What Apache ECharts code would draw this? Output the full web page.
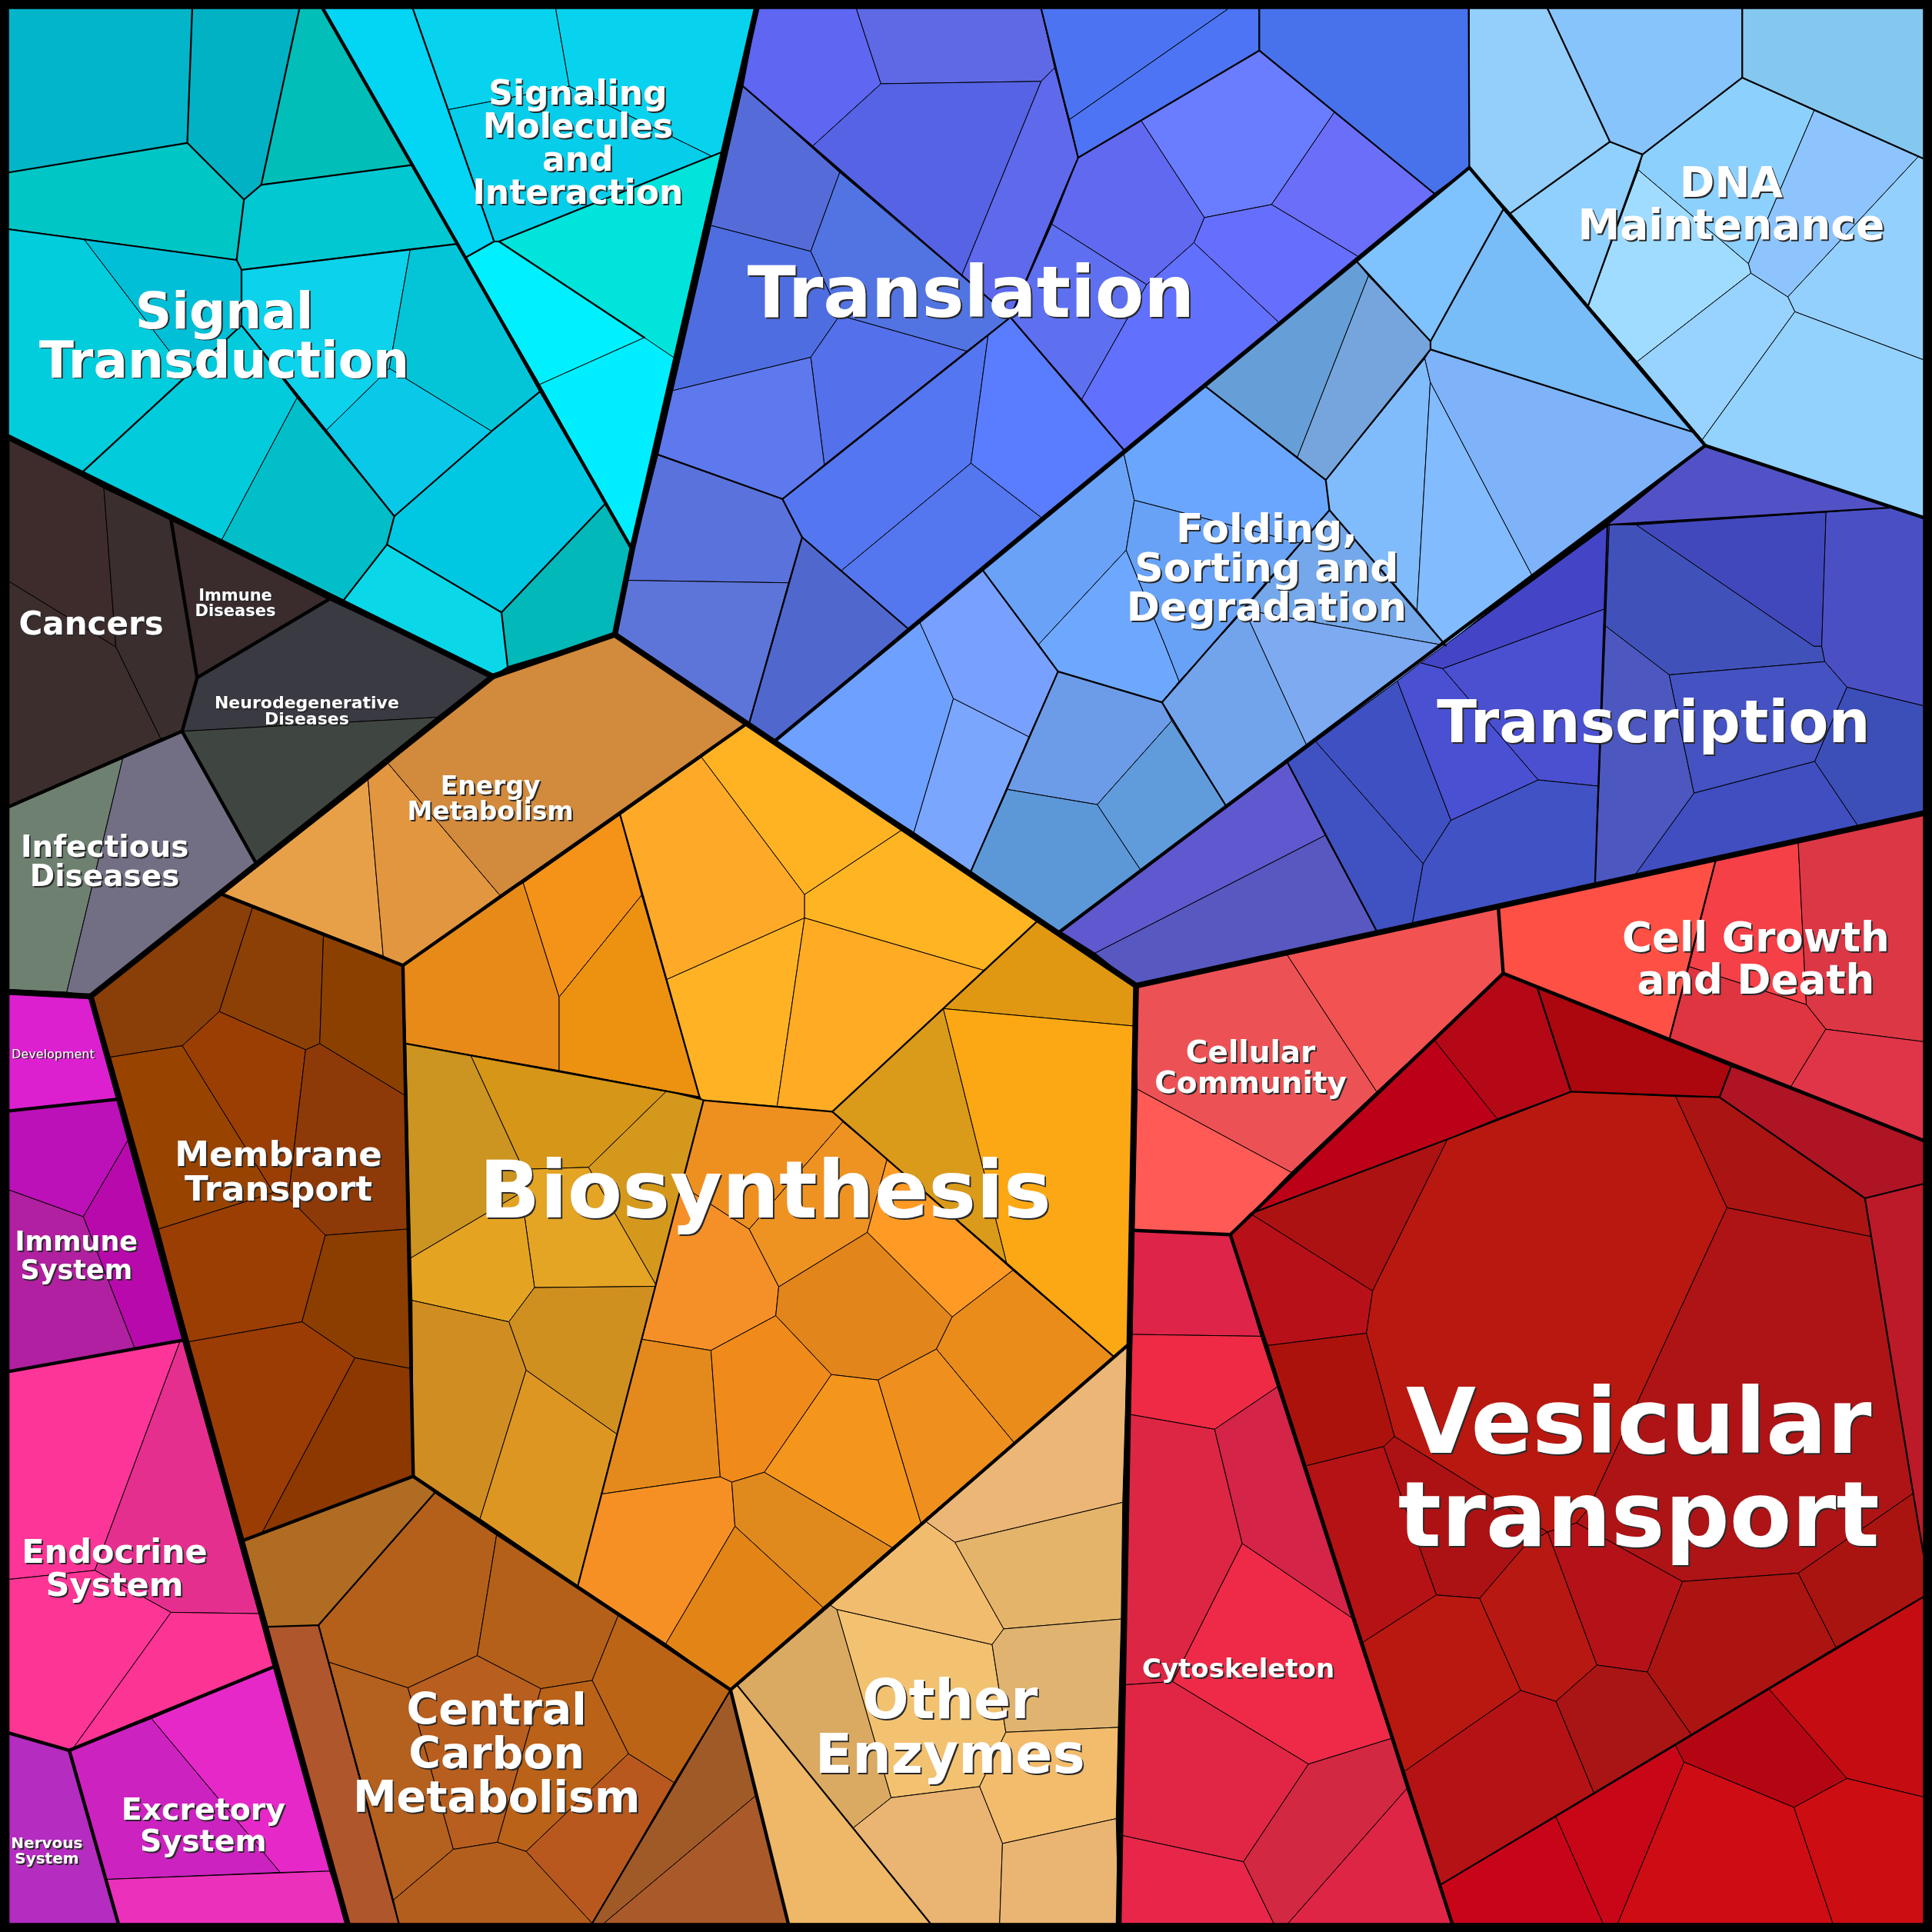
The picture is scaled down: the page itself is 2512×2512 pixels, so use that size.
<!DOCTYPE html>
<html>
<head>
<meta charset="utf-8">
<title>Proteomap</title>
<script src="https://cdn.jsdelivr.net/npm/echarts@6/dist/echarts.min.js"></script>
<style>
  html, body { margin: 0; padding: 0; background: #000; }
  #chart { width: 2512px; height: 2512px; }
</style>
</head>
<body>
<div id="chart"></div>
<script>
// cell outlines, in axis units (0-1568)
var signalTransduction = [
  [7,7,156,7,152,116,7,140],
  [156,7,243,7,212,150,198,162,152,116],
  [243,7,262,7,334,134,212,150],
  [7,140,152,116,198,162,192,211,7,186],
  [212,150,334,134,371,198,196,219,192,211,198,162],
  [7,186,68,194,152,304,67,383,7,355],
  [68,194,192,211,196,219,196,264,152,304],
  [196,219,333,202,316,299,265,349,196,264],
  [333,202,371,198,438,318,399,350,316,299],
  [316,299,399,350,320,419,265,349],
  [152,304,196,264,241,323,180,438,67,383],
  [241,323,320,419,314,442,279,487,180,438],
  [320,419,399,350,438,318,491,409,407,497,314,442],
  [314,442,407,497,412,541,400,549,279,487],
  [491,409,513,446,499,515,412,541,407,497]
];
var signalTransductionColors = ['#03b5c8','#01b2c4','#01bfb8','#01c6c6','#02c8d2','#01cddc','#02bfd8','#0cd2eb','#04c5d8','#0ac8e8','#02cbdc','#02bec8','#01c8e2','#0ad8e8','#03b8b8'];

var signalingMolecules = [
  [262,7,335,7,401,196,378,209],
  [335,7,451,7,462,70,364,89],
  [451,7,614,7,587,123,578,127,462,70],
  [364,89,462,70,578,127,405,196,401,196],
  [405,196,587,123,548,291],
  [378,209,401,196,405,196,523,274,438,312],
  [438,312,523,274,548,291,513,446]
];
var signalingMoleculesColors = ['#03d5f5','#08d3ee','#08d3ee','#05cdea','#00e4dc','#00f0ff','#00eeff'];

var translation = [
  [615,7,695,7,715,68,659,119,603,70],
  [695,7,845,7,856,55,845,66,715,68],
  [715,68,845,66,780,225,659,119],
  [845,66,856,55,875,128,820,257.5,780,225],
  [603,70,681.5,140,658,204,577,183],
  [681.5,140,820,257.5,784.5,285,681.5,256,658,204],
  [577,183,658,204,681.5,256,658,290,546,317],
  [681.5,256,784.5,285,669,377,658,290],
  [546,317,658,290,669,377,635,405,534,369],
  [635,405,802,272,788,376,683,463,651,436],
  [802,272,820,257.5,912,365,845,420,788,376],
  [788,376,845,420,736.7,510,683,463],
  [534,369,635,405,651,436,640,473,508,471],
  [508,471,640,473,608,587,499,515],
  [651,436,736.7,510,628,602,608,587,640,473],
  [845,7,997,7,868,97,856,55],
  [997,7,1022,7,1022,41,875,128,868,97],
  [1022,7,1192,7,1192.5,136,1164,157,1083,91,1022,41],
  [1022,41,1083,91,1032,166,977.5,176.6,926,97.7],
  [1083,91,1164,157,1102,208,1032,166],
  [875,128,926,97.7,977.5,176.6,969,197,930.6,231,853.7,182],
  [977.5,176.6,1032,166,1102,208,1037.7,261.5,969,197],
  [853.7,182,930.6,231,878,324,820,257.5],
  [930.6,231,969,197,1037.7,261.5,912,365,878,324]
];
var translationColors = ['#5e66f2','#5f69e5','#5563e4','#5e69ec','#556cd8','#5274e2','#4e6de0','#5470ea','#5e78ee','#5476f0','#5a7cfe','#5476ee','#5a72dc','#5d75d8','#5068ce','#4c74f2','#4c74f4','#4871ec','#6a7cff','#6a6ef8','#6069f0','#666efe','#5e70f0','#6270fe'];

var folding = [
  [628,602,746,504,755,524,773.8,567,741.7,675.5],
  [746,504,797,462,858.7,545,835,598,773.8,567,755,524],
  [773.8,567,835,598,788,707,741.7,675.5],
  [911.6,366,920.6,406,914,446.5,843,523,797,462],
  [843,523,914,446.5,945.7,524,957,553,943,570,858.7,545],
  [858.7,545,943,570,951,585,890.5,653,817.6,640.7,835,598],
  [951,585,995,654,925.6,706,890.5,653],
  [817.6,640.7,890.5,653,925.6,706,859,757,788,707],
  [1101,212,1110.6,224,1053,371,977.5,313],
  [1110.6,224,1161,277,1161,283.6,1076,389.6,1053,371],
  [911.6,366,977.5,313,1053,371,1076,389.6,1079,414,1056,441,920.6,406],
  [920.6,406,1056,441,1010,495,957,553,945.7,524,914,446.5],
  [943,570,957,553,1010,495,1061,606,995,654,951,585],
  [1010,495,1079,414,1150,495,1173.5,524],
  [1010,495,1173.5,524,1061,606],
  [1156.4,291,1160.8,310,1150,495,1079,414,1076,389.6],
  [1160.8,310,1243.4,467,1173.5,524,1150,495],
  [1161,283.6,1375,351,1384,361.6,1243.4,467,1160.8,310,1156.4,291],
  [1101,212,1192.5,136,1220,170,1161,277],
  [1220,170,1375,351,1161,283.6,1161,277]
];
var foldingColors = ['#6ea0ff','#78a0ff','#7aa6fe','#6aa2f8','#6ea8fe','#6c9ce8','#609cdc','#5c98d8','#669fd8','#75a5dc','#6aa6fe','#67a2f6','#72a4ec','#74a8ea','#7eaaf2','#80bcfc','#82bbfe','#7eb3fa','#7ec2fe','#78bcf8'];

var dnaMaintenance = [
  [1192.5,7,1256,7,1306.6,115,1226,173,1192.5,136],
  [1256,7,1414,7,1414,63,1333,125.4,1306.6,115],
  [1414,7,1561,7,1561,128.8,1414,63],
  [1226,173,1306.6,115,1333,125.4,1289,248],
  [1414,63,1472.4,89.6,1419,214,1329.7,138,1333,125.4],
  [1472.4,89.6,1557,127,1451,241,1421,221.7,1419,214],
  [1557,127,1561,128.8,1561,292,1456.7,253,1451,241],
  [1329.7,138,1419,214,1421,221.7,1328.6,293.6,1289,248],
  [1421,221.7,1451,241,1456.7,253,1381.5,357,1328.6,293.6],
  [1456.7,253,1561,292,1561,420,1384,361.6,1381.5,357]
];
var dnaMaintenanceColors = ['#94cefa','#88c4fc','#84c8f0','#90d0fe','#8cd0fe','#8ec4fe','#94d0fe','#a0dcff','#98d2fe','#94d2fe'];

var transcription = [
  [1384,361.6,1533.7,412,1304.6,426],
  [1306,426,1328,426,1472,524.4,1478.5,524.4,1481,537,1354.7,547.7,1303,508],
  [1328,426,1482,415.7,1478.5,524.4,1472,524.4],
  [1482,415.7,1533.7,412,1561,420,1561,572.8,1499,557.7,1481,537,1478.5,524.4],
  [1303,508,1354.7,547.7,1374.8,643.7,1327,710,1294.5,717.6],
  [1354.7,547.7,1481,537,1499,557.7,1472.8,618,1374.8,643.7],
  [1499,557.7,1561,572.8,1561,660,1508,670.5,1472.8,618],
  [1374.8,643.7,1472.8,618,1508,670.5,1327,710],
  [1045,619,1075.5,678,888.8,773.5,860.4,755.7],
  [1075.5,678,1118,757,922,800,888.8,773.5],
  [1153,538,1306,426,1303,494,1170.8,542.7],
  [1170.8,542.7,1303,494,1297,638,1248.4,633],
  [1134,552.7,1153,538,1170.8,542.7,1248.4,633,1177.5,665.8],
  [1067.8,601.9,1134,552.7,1177.5,665.8,1155,701],
  [1045,619,1067.8,601.9,1155,701,1146.4,749,1118,757],
  [1177.5,665.8,1248.4,633,1297,638,1294.5,717.6,1146.4,749,1155,701]
];
var transcriptionColors = ['#5252c6','#4052ba','#4148bc','#4a50c4','#4c58c0','#4452c2','#3c4eb8','#404ec0','#6058ce','#5858c0','#4444c6','#4a50d0','#4a50d2','#3f50c2','#4052c2','#4052c4'];

var cellGrowth = [
  [1216,736,1392.5,698,1355,843,1220,790],
  [1392.5,698,1459.4,684,1466,815.3,1370.8,784.5],
  [1459.4,684,1561,660,1561,845.4,1481.8,835.3,1466,815.3],
  [1370.8,784.5,1466,815.3,1481.8,835.3,1453.4,882,1355,843],
  [1481.8,835.3,1561,845.4,1561,925.6,1453.4,882]
];
var cellGrowthColors = ['#ff5046','#f54048','#dc3745','#de3540','#e03448'];

var cellularCommunity = [
  [922,800,1043.7,773.5,1117.3,886,1048,951.5,923,884],
  [1043.7,773.5,1216,736,1220,790,1117.3,886],
  [923,884,1048,951.5,998.5,1002,920.6,998.6]
];
var cellularCommunityColors = ['#ec5255','#f25252','#ff5a55'];

var cytoskeleton = [
  [920.6,998.6,998.5,1002,1023.3,1084.5,918.9,1083],
  [918.9,1083,1023.3,1084.5,1036.7,1125.6,985.8,1160,917.3,1148],
  [917.3,1148,985.8,1160,1008.2,1252.7,951.7,1364.8,912.3,1367.4],
  [1036.7,1125.6,1097,1313,1008.2,1252.7,985.8,1160],
  [1008.2,1252.7,1097,1313,1129,1411,1062,1431.7,951.7,1364.8],
  [912.3,1367.4,951.7,1364.8,1062,1431.7,1009.2,1511,910,1489.5],
  [1062,1431.7,1129,1411,1141.7,1451.7,1045.4,1561,1033.7,1561,1009.2,1511],
  [910,1489.5,1009.2,1511,1033.7,1561,907.9,1561],
  [1141.7,1451.7,1178.5,1561,1045.4,1561]
];
var cytoskeletonColors = ['#de2448','#ee2a44','#dc2644','#d42448','#ee2a48','#e02644','#d22842','#e8264a','#de2546'];

var vesicularTransport = [
  [1015,985,1164,844,1215,908,1174.8,924.6],
  [998.5,1002,1015,985,1114,1047.7,1109,1082,1029,1092],
  [1015,985,1174.8,924.6,1114,1047.7],
  [1164,844,1220,790,1247.7,802,1275,886,1215,908],
  [1247.7,802,1405,865.5,1395.5,890.5,1275,886],
  [1405,865.5,1561,925.6,1561,960.8,1513.6,972.5,1395.5,890.5],
  [1174.8,924.6,1275,886,1360,889.9,1401.6,980.2,1289.5,1224,1279.5,1236,1256,1243.4,1131.7,1165.8,1109,1082,1114,1047.7],
  [1360,889.9,1395.5,890.5,1513.6,972.5,1518.6,1003.6,1401.6,980.2],
  [1401.6,980.2,1518.6,1003.6,1552.7,1212,1459.4,1276.8,1365.4,1283.5,1279.5,1236,1289.5,1224],
  [1513.6,972.5,1561,960.8,1561,1261,1552.7,1212,1518.6,1003.6],
  [1552.7,1212,1561,1261,1561,1296,1490,1337,1459.4,1276.8],
  [1365.4,1283.5,1459.4,1276.8,1490,1337,1372.4,1407.6,1337,1357],
  [1279.5,1236,1365.4,1283.5,1337,1357,1296,1351.4,1256,1243.4],
  [1029,1092,1109,1082,1131.7,1165.8,1123,1174,1059.4,1189.8],
  [1059.4,1189.8,1123,1174,1165.8,1294.5,1105.9,1333],
  [1123,1174,1131.7,1165.8,1256,1243.4,1238,1254,1200.9,1297.2,1165.8,1294.5],
  [1105.9,1333,1165.8,1294.5,1200.9,1297.2,1234.3,1372,1139.7,1437.7],
  [1200.9,1297.2,1238,1254,1256,1243.4,1296,1351.4,1262.8,1380.8,1234.3,1372],
  [1262.8,1380.8,1296,1351.4,1337,1357,1372.4,1407.6,1293.5,1455],
  [1139.7,1437.7,1234.3,1372,1262.8,1380.8,1293.5,1455,1169,1529.7],
  [1169,1529.7,1262.8,1474.5,1301,1561,1178.5,1561],
  [1262.8,1474.5,1359.8,1416.6,1366.8,1430,1313,1561,1301,1561],
  [1366.8,1430,1456,1466.8,1487.5,1561,1313,1561],
  [1359.8,1416.6,1435.7,1370.8,1499,1443.4,1456,1466.8,1366.8,1430],
  [1435.7,1370.8,1561,1296,1561,1458.4,1499,1443.4],
  [1456,1466.8,1499,1443.4,1561,1458.4,1561,1561,1487.5,1561]
];
var vesicularTransportColors = ['#bc0018','#b81018','#ac1212','#b40816','#ac060e','#ae1424','#b81810','#aa1412','#ae1416','#bc1a28','#aa1410','#ac1412','#b41218','#ac120c','#b41214','#ac1214','#b81810','#b81812','#a81514','#b51216','#c80418','#c80618','#ce0c14','#b40612','#c40c12','#cc0e12'];

var energyMetabolism = [
  [180.6,726,298.7,633,311,775.8],
  [298.7,633,315,619.6,405.7,726.6,327,783.5,311,775.8],
  [315,619.6,400,549,499,515,605,588,405.7,726.6]
];
var energyMetabolismColors = ['#e8a048','#e29640','#d28a3c'];

var membraneTransport = [
  [180.6,726,205,736.7,178,821,148,848.7,89.6,858,73.6,808.6],
  [205,736.7,262.5,759.4,259.5,847,248,852,178,821],
  [262.5,759.4,327,783.5,329.4,889.5,259.5,847],
  [89.6,858,148,848.7,222,968,128.8,997.5],
  [148,848.7,178,821,248,852,234,972,222,968],
  [248,852,259.5,847,329.4,889.5,331,997.5,264,1002.5,234,972],
  [264,1002.5,331,997.5,332.8,1110.6,288,1102,245,1072.8],
  [128.8,997.5,222,968,234,972,264,1002.5,245,1072.8,153,1089],
  [153,1089,245,1072.8,288,1102,213,1243.4,198,1250],
  [288,1102,332.8,1110.6,335.4,1198.2,213,1243.4]
];
var membraneTransportColors = ['#8a3e08','#8c4006','#8c4000','#984400','#9a3e04','#8e3a08','#8c3e00','#9a3e04','#9a3c04','#8c3800'];

var biosynthesis = [
  [329.4,847,327,783.5,405.7,726.6,424.7,716.6,453.8,809.2,453.8,868.8],
  [424.7,716.6,503.3,661.4,520.7,726.6,453.8,809.2],
  [453.8,809.2,520.7,726.6,567.8,890.5,453.8,868.8],
  [503.3,661.4,569.4,614.6,653,726,653,745,541,795],
  [569.4,614.6,605,588,731.7,673.8,653,726],
  [731.7,673.8,841.4,748,798.5,787.5,653,745,653,726],
  [541,795,653,745,630.7,897.9,571,893,567.8,890.5],
  [653,745,798.5,787.5,675.5,902.2,630.7,897.9],
  [798.5,787.5,841.4,748,922,800,920,832.7,765.6,818.6],
  [765.6,818.6,817,1025,675.5,902.2],
  [765.6,818.6,920,832.7,915,1092,903.9,1101,817,1025],
  [329.4,847,382,856.4,424.7,949,423,968,333.4,1021],
  [382,856.4,541,885.5,477.6,947.4,424.7,949],
  [541,885.5,571,893,533,1044,477.6,947.4],
  [424.7,949,477.6,947.4,533,1044,433.8,1045,423,968],
  [333.4,1021,423,968,433.8,1045,413,1072.8,334.4,1055.4],
  [433.8,1045,533,1044,500.7,1164,427,1112,413,1072.8],
  [334.4,1055.4,413,1072.8,427,1112,389.6,1232.7,335.4,1198.2],
  [427,1112,500.7,1164,469,1287,389.6,1232.7],
  [571,893,675.5,902.2,684,910.6,608,997.6,553,962],
  [684,910.6,720,940.7,703.9,1000.2,632,1044.4,608,997.6],
  [720,940.7,822,1031,772.8,1068.8,703.9,1000.2],
  [553,962,608,997.6,632,1044.4,629.6,1067.8,577,1096,521,1087],
  [632,1044.4,703.9,1000.2,772.8,1068.8,760,1094.9,712.6,1120,674.8,1115.6,629.6,1067.8],
  [772.8,1068.8,822,1031,903.9,1101,823,1170.8,760,1094.9],
  [521,1087,577,1096,584.5,1198.6,488,1212.6],
  [577,1096,629.6,1067.8,674.8,1115.6,620.3,1194.9,593.9,1202.9,584.5,1198.6],
  [674.8,1115.6,712.6,1120,747.4,1236,724,1256,620.3,1194.9],
  [712.6,1120,760,1094.9,823,1170.8,747.4,1236],
  [488,1212.6,584.5,1198.6,593.9,1202.9,596.5,1238.7,540.4,1334,469,1287],
  [593.9,1202.9,620.3,1194.9,724,1256,668,1304.6,596.5,1238.7],
  [596.5,1238.7,668,1304.6,592.9,1371.5,540.4,1334]
];
var biosynthesisColors = ['#e88a18','#f59218','#ec9210','#feaa28','#ffb322','#ffb422','#ffb324','#ffab24','#e09812','#da9a1a','#fba814','#cc9420','#d69618','#d4981c','#e4a424','#e4a422','#cf9020','#d08e22','#de9622','#ee9020','#ee9222','#ff9a24','#f59028','#e2851a','#ea8c1a','#e48a1c','#f08a1a','#f5961c','#ee8f1e','#f69024','#e08a1e','#e28416'];

var centralCarbon = [
  [198,1250,335.4,1198.2,352.8,1211.6,258.5,1319,217.4,1320.3],
  [217.4,1320.3,258.5,1319,323.7,1561,282,1561],
  [352.8,1211.6,403,1246,387.3,1343.7,331,1369.8,266.9,1349,258.5,1319],
  [403,1246,501.7,1311.3,480.6,1363.8,439,1370.5,387.3,1343.7],
  [501.7,1311.3,592.9,1371.5,547,1446.7,510,1423.3,480.6,1363.8],
  [331,1369.8,387.3,1343.7,439,1370.5,403.7,1495.2,367.9,1500.9],
  [439,1370.5,480.6,1363.8,510,1423.3,427,1502.6,403.7,1495.2],
  [510,1423.3,547,1446.7,480.6,1561,427,1502.6],
  [266.9,1349,331,1369.8,367.9,1500.9,319.4,1542],
  [319.4,1542,367.9,1500.9,403.7,1495.2,427,1502.6,480.6,1561,323.7,1561],
  [592.9,1371.5,613,1457.7,490,1561,480.6,1561],
  [613,1457.7,639.7,1561,490,1561]
];
var centralCarbonColors = ['#b06c22','#b0562c','#b4601a','#b46018','#bc6416','#b85e1e','#ba6218','#b8581e','#b4601e','#b45e1e','#a05a28','#aa5a2a'];

var otherEnzymes = [
  [598.5,1368,755,1561,639.7,1561,592.9,1371.5],
  [598.5,1368,674.1,1302.9,679.2,1306.2,723.3,1459,692.5,1483.5],
  [679.2,1306.2,805.2,1334.7,816.3,1405.9,795,1450,723.3,1459],
  [674.1,1302.9,751.7,1235,775,1251.7,814.6,1322,805.2,1334.7,679.2,1306.2],
  [751.7,1235,915,1092,911.2,1219.3,775,1251.7],
  [775,1251.7,911.2,1219.3,910,1314,814.6,1322],
  [814.6,1322,910,1314,907.6,1401.9,816.3,1405.9,805.2,1334.7],
  [816.3,1405.9,907.6,1401.9,905.9,1476,813.6,1496.2,795,1450],
  [692.5,1483.5,723.3,1459,795,1450,813.6,1496.2,811.3,1561,755,1561],
  [813.6,1496.2,905.9,1476,907.9,1561,811.3,1561]
];
var otherEnzymesColors = ['#efb868','#daa962','#f2c270','#f2bc6e','#ecb676','#e4b46a','#e0b470','#f2bc6c','#eab472','#eab572'];

var organismalSystems = [
  [7.4,806.9,72.9,810.3,94.6,892.2,7.4,901.6],
  [7.4,901.6,94.6,892.2,103.7,925.6,67.6,987.5,7.4,965.8],
  [103.7,925.6,148,1087.8,109.4,1094.5,67.6,987.5],
  [7.4,965.8,67.6,987.5,109.4,1094.5,7.4,1113],
  [7.4,1113,146,1089,77,1274.5,7.4,1281.8],
  [146,1089,148,1087.8,210,1309.6,138.8,1308.6,77,1274.5],
  [7.4,1281.8,77,1274.5,138.8,1308.6,58.5,1420,56.2,1420.6,7.4,1406.6],
  [138.8,1308.6,210,1309.6,221.7,1353,58.5,1420],
  [56.2,1420.6,123,1394.8,227.4,1519.6,86.3,1525.3],
  [123,1394.8,221.7,1353,267.6,1518.6,227.4,1519.6],
  [86.3,1525.3,267.6,1518.6,282,1561,96,1561],
  [7.4,1406.6,56.2,1420.6,96,1561,7.4,1561]
];
var organismalSystemsColors = ['#dc20d0','#bc10b8','#b80aac','#b020a0','#fe3598','#e52f8e','#fd3595','#fc3494','#cc22c0','#e628c8','#eb30bc','#b42cc0'];

var humanDiseases = [
  [7.4,355,84.3,396.3,94,525,7.4,472],
  [84.3,396.3,138.8,422,160,550,147.8,593.5,130.4,599.5,94,525],
  [7.4,472,94,525,130.4,599.5,7.4,654.7],
  [138.8,422,266.6,486.6,160,550],
  [160,550,266.6,486.6,400,549,354.5,582.2,147.8,593.5],
  [147.8,593.5,354.5,582.2,207.4,699.9],
  [7.4,654.7,99.7,615.3,54.2,805.2,7.4,803],
  [99.7,615.3,147.8,593.5,207.4,699.9,73.6,808.6,54.2,805.2]
];
var humanDiseasesColors = ['#3e2c2c','#3a2e2e','#3c2e2c','#3a2c2c','#3a3a42','#3f4540','#6e8070','#726e84'];

// pathway boundaries, heaviest first
var level1Lines = [
  [7,355,400,549,499,515,513,446,614,7],
  [499,515,922,800,1561,660],
  [400,549,73.6,808.6,7,805],
  [73.6,808.6,282,1561],
  [922,800,907.9,1561]
];
var level2Lines = [
  [262,7,513,446],
  [628,602,1192.5,136,1384,361.6],
  [1561,420,1384,361.6,859,757],
  [138.8,422,160,550,147.8,593.5,7.4,654.7],
  [160,550,266.6,486.6],
  [147.8,593.5,207.4,699.9],
  [180.6,726,327,783.5,335.4,1198.2],
  [198,1250,335.4,1198.2,592.9,1371.5,915,1092],
  [592.9,1371.5,639.7,1561],
  [327,783.5,605,588],
  [1216,736,1220,790,1561,925.6],
  [1220,790,998.5,1002,920.6,998.6],
  [998.5,1002,1178.5,1561],
  [7.4,901.6,94.6,892.2],
  [7.4,1113,148,1087.8],
  [7.4,1406.6,56.2,1420.6,221.7,1353],
  [56.2,1420.6,96,1561]
];
var level3Lines = [
  [156,7,152,116],
  [7,140,152,116,198,162,212,150,243,7],
  [212,150,334,134],
  [198,162,192,211,196,219],
  [7,186,192,211],
  [196,219,371,198],
  [196,219,196,264],
  [196,264,67,383],
  [196,264,320,419,399,350,438,318],
  [320,419,314,442,279,487],
  [314,442,407,497,491,409],
  [407,497,412,541],
  [335,7,401,196,378,209],
  [401,196,405,196,587,123],
  [405,196,523,274],
  [603,70,820,257.5,912,365],
  [875,128,820,257.5,635,405],
  [534,369,635,405,651,436,736.7,510],
  [651,436,608,587],
  [845,7,875,128,1022,41,1022,7],
  [1022,41,1164,157],
  [1192,7,1192.5,136],
  [797,462,858.7,545,788,707],
  [858.7,545,943,570,995,654],
  [943,570,1079,414,1076,389.6,977.5,313],
  [1076,389.6,1161,283.6,1161,277,1101,212],
  [1161,277,1220,170],
  [1161,283.6,1375,351],
  [1079,414,1173.5,524],
  [1256,7,1306.6,115,1333,125.4,1414,63,1414,7],
  [1226,173,1306.6,115],
  [1333,125.4,1289,248],
  [1414,63,1561,128.8],
  [1045,619,1118,757],
  [1304.6,426,1294.5,717.6],
  [1304.6,426,1533.7,412],
  [1392.5,698,1355,843],
  [1247.7,802,1275,886,1395.5,890.5,1405,865.5],
  [1275,886,1174.8,924.6,1015,985,998.5,1002],
  [1395.5,890.5,1513.6,972.5,1561,960.8],
  [1513.6,972.5,1552.7,1212,1561,1261],
  [1169,1529.7,1561,1296],
  [329.4,847,567.8,890.5],
  [503.3,661.4,567.8,890.5],
  [571,893,469,1287],
  [571,893,675.5,902.2,841.4,748],
  [675.5,902.2,903.9,1101],
  [352.8,1211.6,258.5,1319,217.4,1320.3],
  [258.5,1319,323.7,1561],
  [592.9,1371.5,480.6,1561],
  [598.5,1368,755,1561]
];

// pathway names
var labelNames = ['Signal\nTransduction','Signaling\nMolecules\nand\nInteraction','Translation','DNA\nMaintenance','Folding,\nSorting and\nDegradation','Transcription','Cell Growth\nand Death','Cellular\nCommunity','Biosynthesis','Energy\nMetabolism','Cancers','Immune\nDiseases','Neurodegenerative\nDiseases','Infectious\nDiseases','Membrane\nTransport','Development','Immune\nSystem','Endocrine\nSystem','Excretory\nSystem','Nervous\nSystem','Central\nCarbon\nMetabolism','Other\nEnzymes','Cytoskeleton','Vesicular\ntransport'];
var labelX = [182,469,788,1405,1028,1342,1425,1015,621,398,74,191,249,85,226,43,62,93,165,38,403,771,1005,1330];
var labelY = [275.5,118,242,168,463.5,590,781,868,971,650,508,490.5,578,701,953,856,1021,1275,1483,1503,1426,1405,1356,1198];
var labelSizes = [66,44,92.5,55,52,76,53,39,104,33,42,21,22,39,45,16,35,43,39.5,20,57,71,34,117.5];
var labelSpacing = [64,43,95,55,51,78,55,40,112,33,42,20,21,38,45,16,37,43,41,20,57,71,34,121];

var groups = [
  [signalTransduction, signalTransductionColors],
  [signalingMolecules, signalingMoleculesColors],
  [translation, translationColors],
  [folding, foldingColors],
  [dnaMaintenance, dnaMaintenanceColors],
  [transcription, transcriptionColors],
  [cellGrowth, cellGrowthColors],
  [cellularCommunity, cellularCommunityColors],
  [cytoskeleton, cytoskeletonColors],
  [vesicularTransport, vesicularTransportColors],
  [energyMetabolism, energyMetabolismColors],
  [membraneTransport, membraneTransportColors],
  [biosynthesis, biosynthesisColors],
  [centralCarbon, centralCarbonColors],
  [otherEnzymes, otherEnzymesColors],
  [organismalSystems, organismalSystemsColors],
  [humanDiseases, humanDiseasesColors]
];

var cells = [], fills = [];
groups.forEach(function (g) {
  g[0].forEach(function (c, i) { cells.push(c); fills.push(g[1][i]); });
});

function project(api, flat) {
  var pts = [];
  for (var i = 0; i < flat.length; i += 2) pts.push(api.coord([flat[i], flat[i + 1]]));
  return pts;
}

function lineSeries(lines, width) {
  return {
    type: 'custom',
    coordinateSystem: 'cartesian2d',
    silent: true,
    clip: false,
    data: lines.map(function (l, i) { return [i]; }),
    renderItem: function (params, api) {
      return {
        type: 'polyline',
        shape: { points: project(api, lines[api.value(0)]) },
        style: { stroke: '#000', fill: null, lineWidth: width, lineJoin: 'round', lineCap: 'round' }
      };
    }
  };
}

// one scatter per name; shadow copy sits a touch lower right, z keeps it under the white text
function labelSeries(i, dx, color, z) {
  return {
    type: 'scatter',
    silent: true,
    z: z,
    symbolSize: 1,
    itemStyle: { color: 'rgba(0,0,0,0)', opacity: 1 },
    data: [[labelX[i] + dx, labelY[i] + dx]],
    label: {
      show: true,
      position: 'inside',
      formatter: labelNames[i],
      color: color,
      align: 'center',
      verticalAlign: 'middle',
      fontFamily: 'DejaVu Sans',
      fontWeight: labelNames[i] === 'Development' ? 'normal' : 'bold',
      fontSize: labelSizes[i],
      lineHeight: labelSpacing[i]
    }
  };
}

var labelLayers = [];
labelNames.forEach(function (n, i) { labelLayers.push(labelSeries(i, 1.2, '#2a2a2a', 5)); });
labelNames.forEach(function (n, i) { labelLayers.push(labelSeries(i, 0, '#fff', 6)); });

var c = echarts.init(document.getElementById('chart'), null, { renderer: 'canvas' });
c.setOption({
  animation: false,
  backgroundColor: '#000',
  grid: { left: 0, right: 0, top: 0, bottom: 0 },
  xAxis: { type: 'value', min: 0, max: 1568, show: false },
  yAxis: { type: 'value', min: 0, max: 1568, inverse: true, show: false },
  series: [
    {
      type: 'custom',
      coordinateSystem: 'cartesian2d',
      silent: true,
      data: cells.map(function (p, i) { return [i]; }),
      renderItem: function (params, api) {
        var i = api.value(0);
        return {
          type: 'polygon',
          shape: { points: project(api, cells[i]) },
          style: { fill: fills[i], stroke: '#000', lineWidth: 1 }
        };
      }
    },
    lineSeries(level3Lines, 2.2),
    lineSeries(level2Lines, 4.4),
    lineSeries(level1Lines, 7.5)
  ].concat(labelLayers)
});
</script>
</body>
</html>
